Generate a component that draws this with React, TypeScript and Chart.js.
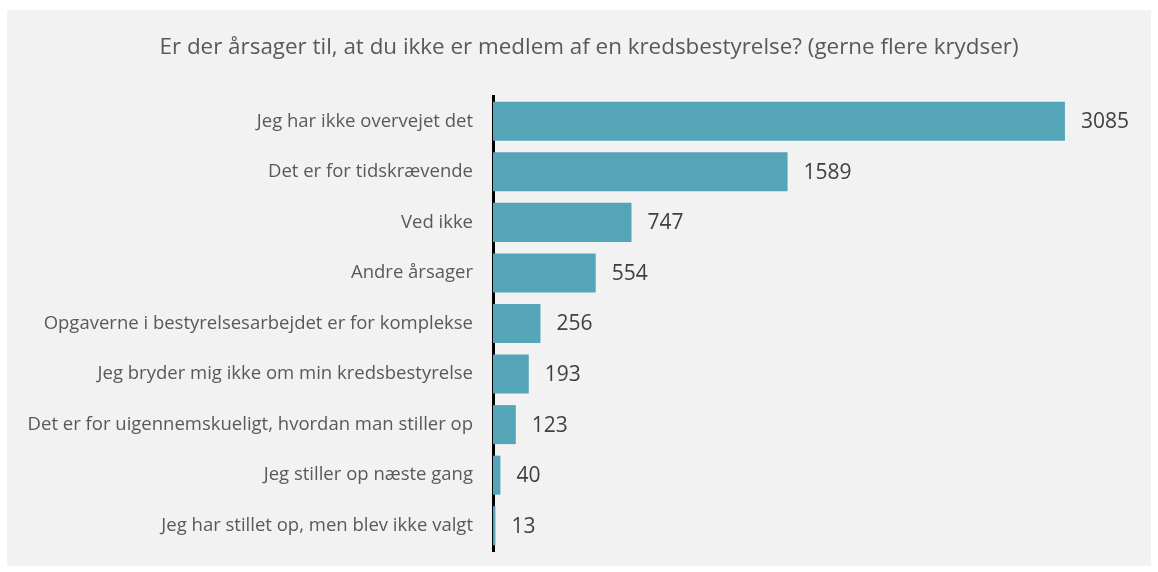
import React, { useEffect, useRef } from "react";
import { Chart, registerables } from "chart.js";

Chart.register(...registerables);

const categories = [
  "Jeg har ikke overvejet det",
  "Det er for tidskrævende",
  "Ved ikke",
  "Andre årsager",
  "Opgaverne i bestyrelsesarbejdet er for komplekse",
  "Jeg bryder mig ikke om min kredsbestyrelse",
  "Det er for uigennemskueligt, hvordan man stiller op",
  "Jeg stiller op næste gang",
  "Jeg har stillet op, men blev ikke valgt",
];
const values = [3085, 1589, 747, 554, 256, 193, 123, 40, 13];
const title = "Er der årsager til, at du ikke er medlem af en kredsbestyrelse? (gerne flere krydser)";

const FONT = "'Open Sans', sans-serif";

export default function App() {
  const ref = useRef<HTMLCanvasElement | null>(null);
  useEffect(() => {
    document.body.style.margin = "0";
    const canvas = ref.current!;
    const bgPlugin = {
      id: "bg",
      beforeDraw(chart: any) {
        const ctx = chart.ctx;
        ctx.save();
        ctx.fillStyle = "#ffffff";
        ctx.fillRect(0, 0, chart.width, chart.height);
        ctx.fillStyle = "#f2f2f2";
        ctx.fillRect(7, 10, 1144, 556);
        ctx.fillStyle = "#595959";
        ctx.font = `22.4px ${FONT}`;
        ctx.textAlign = "center";
        ctx.textBaseline = "middle";
        ctx.fillText(title, 589, 48);
        ctx.restore();
      },
      afterDatasetsDraw(chart: any) {
        const ctx = chart.ctx;
        const meta = chart.getDatasetMeta(0);
        ctx.save();
        ctx.fillStyle = "#404040";
        ctx.font = `21px ${FONT}`;
        ctx.textAlign = "left";
        ctx.textBaseline = "middle";
        meta.data.forEach((bar: any, i: number) => {
          ctx.fillText(String(values[i]), bar.x + 16, bar.y + 1);
        });
        ctx.restore();
      },
    };
    const chart = new Chart(canvas, {
      type: "bar",
      data: {
        labels: categories,
        datasets: [
          {
            data: values,
            backgroundColor: "#55a5b9",
            borderWidth: 0,
            categoryPercentage: 1,
            barPercentage: 0.772,
          },
        ],
      },
      options: {
        indexAxis: "y",
        animation: false,
        responsive: false,
        maintainAspectRatio: false,
        devicePixelRatio: 1,
        layout: { padding: { left: 7, right: 18, top: 96, bottom: 21 } },
        plugins: {
          legend: { display: false },
          tooltip: { enabled: false },
          title: { display: false },
        },
        scales: {
          x: {
            display: false,
            min: 0,
            max: 3490,
          },
          y: {
            grid: { display: false, drawTicks: false },
            border: { display: true, color: "#000000", width: 3 },
            ticks: {
              color: "#595959",
              font: { family: FONT, size: 18.5 },
              padding: 20,
            },
            afterFit(scale: any) {
              scale.width = 486;
              scale.paddingTop = 0;
              scale.paddingBottom = 0;
            },
          },
        },
      },
      plugins: [bgPlugin],
    } as any);
    return () => chart.destroy();
  }, []);
  return <canvas ref={ref} width={1158} height={572} style={{ display: "block", width: "1158px", height: "572px" }} />;
}
